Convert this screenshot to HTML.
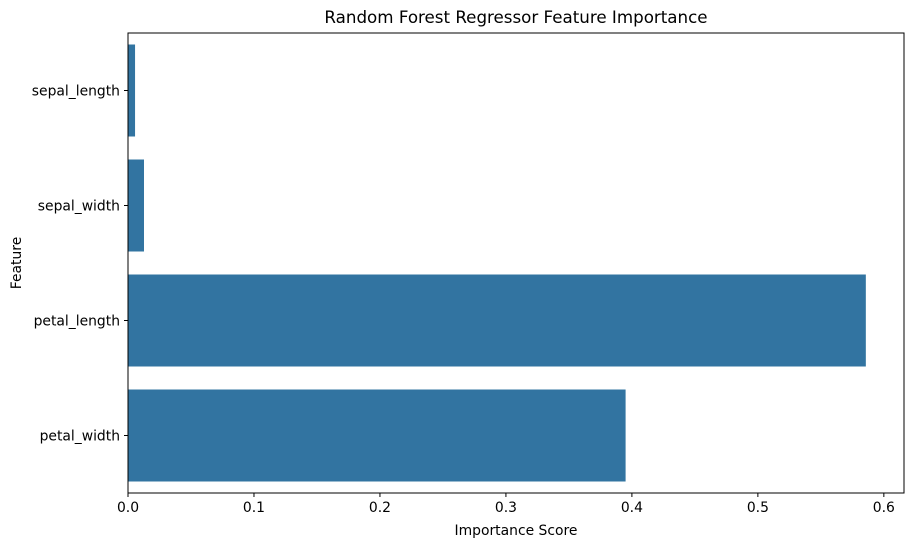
<!DOCTYPE html>
<html><head><meta charset="utf-8"><style>
body{margin:0;background:#fff;}
svg{display:block;font-family:"DejaVu Sans","Liberation Sans",sans-serif;}
</style></head><body>
<svg id="chart" width="912" height="547" viewBox="0 0 912 547">
<rect width="912" height="547" fill="#fff"/>
<text x="516" y="23" text-anchor="middle" font-size="16.7" fill="#000">Random Forest Regressor Feature Importance</text>
<g id="bars"></g>
<g id="xaxis"></g>
<g id="yaxis"></g>
<rect x="128" y="33" width="776" height="460" fill="none" stroke="#000" stroke-width="1"/>
<text x="516" y="535" text-anchor="middle" font-size="13.9">Importance Score</text>
<text x="21" y="263" text-anchor="middle" font-size="13.9" transform="rotate(-90 21 263)">Feature</text>
</svg>
<script>
const categories = ["sepal_length","sepal_width","petal_length","petal_width"];
const importance = [0.0056, 0.0127, 0.5857, 0.395];
const xTicks = [0, 0.1, 0.2, 0.3, 0.4, 0.5, 0.6];
const xTickLabels = ["0.0","0.1","0.2","0.3","0.4","0.5","0.6"];

const L=128,R=904,T=33,B=493, xMax=0.616;
const xs=v=>L+(v/xMax)*(R-L);
const band=(B-T)/categories.length;
const yc=i=>T+band*(i+0.5);
const NS="http://www.w3.org/2000/svg";
function mk(tag,attrs,parent){const e=document.createElementNS(NS,tag);for(const k in attrs)e.setAttribute(k,attrs[k]);parent.appendChild(e);return e;}
const gb=document.getElementById('bars'),gx=document.getElementById('xaxis'),gy=document.getElementById('yaxis');
categories.forEach((c,i)=>{
  const h=band*0.8;
  const r=mk('rect',{x:xs(0),y:yc(i)-h/2,width:xs(importance[i])-xs(0),height:h,fill:'#3274a1'},gb);
  
  
  const t=mk('line',{x1:L-4,x2:L,y1:yc(i),y2:yc(i),stroke:'#000'},gy);
  
  
  const lb=mk('text',{x:L-8,y:yc(i)+5,'text-anchor':'end','font-size':'13.9'},gy);
  lb.textContent=c;
  
  
});
xTicks.forEach((v,i)=>{
  const t=mk('line',{x1:xs(v),x2:xs(v),y1:B,y2:B+4,stroke:'#000'},gx);
  
  
  const lb=mk('text',{x:xs(v),y:B+19,'text-anchor':'middle','font-size':'13.9'},gx);
  lb.textContent=xTickLabels[i];
  
  
});
</script>
</body></html>
